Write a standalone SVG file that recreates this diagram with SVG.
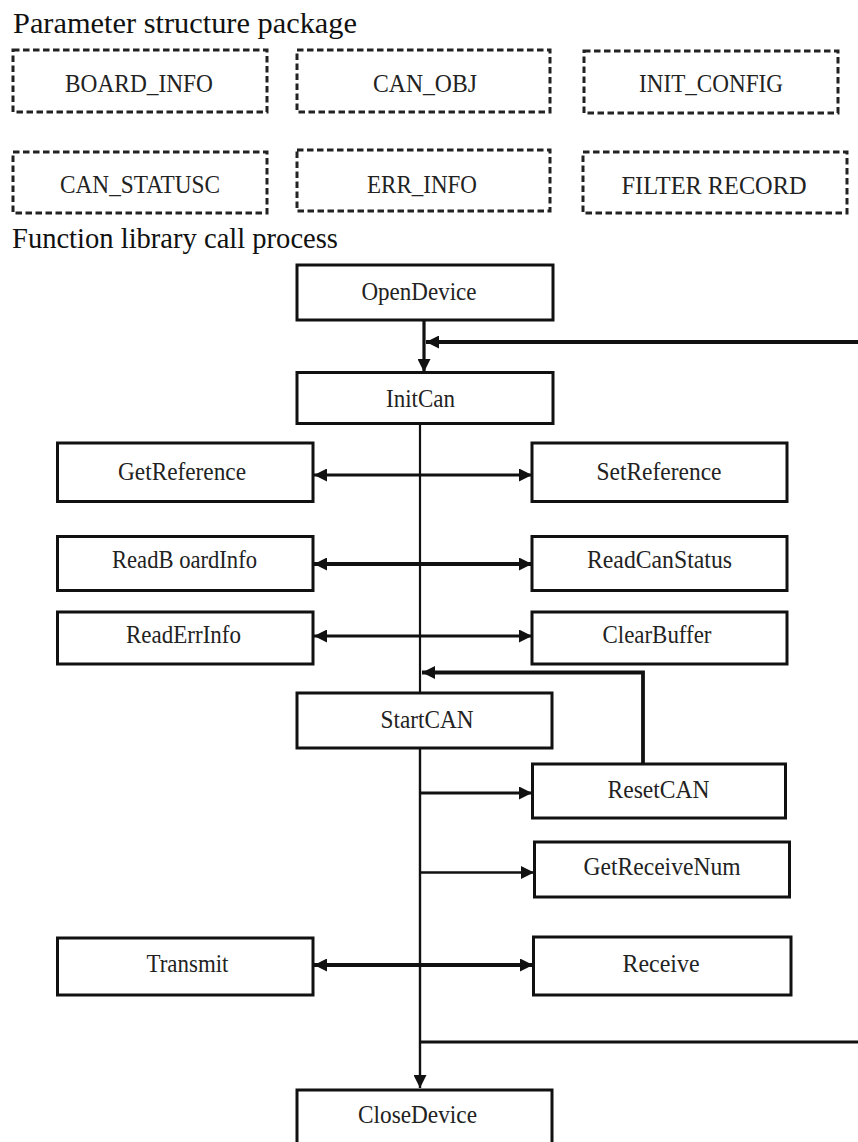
<svg xmlns="http://www.w3.org/2000/svg" width="858" height="1142" viewBox="0 0 858 1142">
<style>
.bg{fill:#ffffff}
.title{font-family:"Liberation Serif","Times New Roman",serif;font-size:30px;fill:#111}
.lbl{font-family:"Liberation Serif","Times New Roman",serif;font-size:25px;fill:#222;text-anchor:middle}
.dbox{fill:#ffffff;stroke:#222;stroke-width:3;stroke-dasharray:6.5 3.5}
.box{fill:#ffffff;stroke:#111;stroke-width:3}
.ln{fill:none;stroke:#111}
</style>
<defs>
<marker id="ah" markerUnits="userSpaceOnUse" markerWidth="13" markerHeight="13" refX="13" refY="6.5" orient="auto-start-reverse" viewBox="0 0 13 13">
<path d="M0,0 L13,6.5 L0,13 z" fill="#111"/>
</marker>
</defs>
<rect class="bg" x="0" y="0" width="858" height="1142"/>

<text class="title" x="13" y="33" textLength="344" lengthAdjust="spacingAndGlyphs">Parameter structure package</text>
<text class="title" x="12" y="248" textLength="326" lengthAdjust="spacingAndGlyphs">Function library call process</text>

<g id="board_info"><rect class="dbox" x="13" y="50" width="254" height="62"/><text class="lbl" x="139" y="92" textLength="148" lengthAdjust="spacingAndGlyphs">BOARD_INFO</text></g>
<g id="can_obj"><rect class="dbox" x="297" y="50" width="253" height="62"/><text class="lbl" x="425" y="92" textLength="104" lengthAdjust="spacingAndGlyphs">CAN_OBJ</text></g>
<g id="init_config"><rect class="dbox" x="584" y="51" width="254" height="62"/><text class="lbl" x="711" y="92" textLength="144" lengthAdjust="spacingAndGlyphs">INIT_CONFIG</text></g>
<g id="can_statusc"><rect class="dbox" x="13" y="152" width="254" height="61"/><text class="lbl" x="140" y="193" textLength="160" lengthAdjust="spacingAndGlyphs">CAN_STATUSC</text></g>
<g id="err_info"><rect class="dbox" x="297" y="150" width="253" height="61"/><text class="lbl" x="422" y="193" textLength="110" lengthAdjust="spacingAndGlyphs">ERR_INFO</text></g>
<g id="filter_record"><rect class="dbox" x="583" y="152" width="264" height="61"/><text class="lbl" x="714" y="194" textLength="185" lengthAdjust="spacingAndGlyphs">FILTER RECORD</text></g>

<g id="connectors">
<line class="ln" x1="424" y1="320" x2="424" y2="372" stroke-width="3.2" marker-end="url(#ah)"/>
<line class="ln" x1="860" y1="342" x2="426" y2="342" stroke-width="3.8" marker-end="url(#ah)"/>
<line class="ln" x1="420" y1="423" x2="420" y2="693" stroke-width="2.2"/>
<line class="ln" x1="420" y1="748" x2="420" y2="1088" stroke-width="2.4" marker-end="url(#ah)"/>
<line class="ln" x1="314" y1="475" x2="532" y2="475" stroke-width="3" marker-start="url(#ah)" marker-end="url(#ah)"/>
<line class="ln" x1="314" y1="564" x2="532" y2="564" stroke-width="4.2" marker-start="url(#ah)" marker-end="url(#ah)"/>
<line class="ln" x1="314" y1="636" x2="532" y2="636" stroke-width="3" marker-start="url(#ah)" marker-end="url(#ah)"/>
<polyline class="ln" points="643,764 643,672.5 422,672.5" stroke-width="3.8" marker-end="url(#ah)"/>
<line class="ln" x1="420" y1="793" x2="532" y2="793" stroke-width="3.2" marker-end="url(#ah)"/>
<line class="ln" x1="420" y1="872.5" x2="534" y2="872.5" stroke-width="2.4" marker-end="url(#ah)"/>
<line class="ln" x1="314" y1="965" x2="533" y2="965" stroke-width="4.2" marker-start="url(#ah)" marker-end="url(#ah)"/>
<line class="ln" x1="420" y1="1042" x2="860" y2="1042" stroke-width="3.2"/>
</g>

<g id="opendevice"><rect class="box" x="297" y="265" width="256" height="55"/><text class="lbl" x="419" y="300" textLength="115" lengthAdjust="spacingAndGlyphs">OpenDevice</text></g>
<g id="initcan"><rect class="box" x="297" y="372.5" width="256" height="51"/><text class="lbl" x="420.5" y="406.5" textLength="69" lengthAdjust="spacingAndGlyphs">InitCan</text></g>
<g id="getreference"><rect class="box" x="57.5" y="443" width="255.5" height="58.5"/><text class="lbl" x="182" y="480" textLength="128" lengthAdjust="spacingAndGlyphs">GetReference</text></g>
<g id="setreference"><rect class="box" x="532" y="443" width="255" height="58.5"/><text class="lbl" x="659" y="480" textLength="125" lengthAdjust="spacingAndGlyphs">SetReference</text></g>
<g id="readboardinfo"><rect class="box" x="57.5" y="536.5" width="255.5" height="54"/><text class="lbl" x="184.5" y="568" textLength="145" lengthAdjust="spacingAndGlyphs">ReadB oardInfo</text></g>
<g id="readcanstatus"><rect class="box" x="532" y="536.5" width="255" height="54"/><text class="lbl" x="659.5" y="568" textLength="145" lengthAdjust="spacingAndGlyphs">ReadCanStatus</text></g>
<g id="readerrinfo"><rect class="box" x="57.5" y="612" width="255.5" height="52"/><text class="lbl" x="183.5" y="643" textLength="115" lengthAdjust="spacingAndGlyphs">ReadErrInfo</text></g>
<g id="clearbuffer"><rect class="box" x="532" y="612" width="255" height="52"/><text class="lbl" x="657" y="643" textLength="109" lengthAdjust="spacingAndGlyphs">ClearBuffer</text></g>
<g id="startcan"><rect class="box" x="297" y="693" width="255" height="55"/><text class="lbl" x="427" y="728" textLength="93" lengthAdjust="spacingAndGlyphs">StartCAN</text></g>
<g id="resetcan"><rect class="box" x="532.5" y="764" width="253" height="54"/><text class="lbl" x="658.5" y="798" textLength="102" lengthAdjust="spacingAndGlyphs">ResetCAN</text></g>
<g id="getreceivenum"><rect class="box" x="534.5" y="842" width="255" height="55"/><text class="lbl" x="662" y="875" textLength="157" lengthAdjust="spacingAndGlyphs">GetReceiveNum</text></g>
<g id="transmit"><rect class="box" x="57.5" y="938" width="255.5" height="57"/><text class="lbl" x="187.5" y="972" textLength="82" lengthAdjust="spacingAndGlyphs">Transmit</text></g>
<g id="receive"><rect class="box" x="533.5" y="937" width="257.5" height="58"/><text class="lbl" x="661" y="972" textLength="77" lengthAdjust="spacingAndGlyphs">Receive</text></g>
<g id="closedevice"><rect class="box" x="297" y="1090" width="255" height="60"/><text class="lbl" x="417.5" y="1123" textLength="119" lengthAdjust="spacingAndGlyphs">CloseDevice</text></g>
</svg>
